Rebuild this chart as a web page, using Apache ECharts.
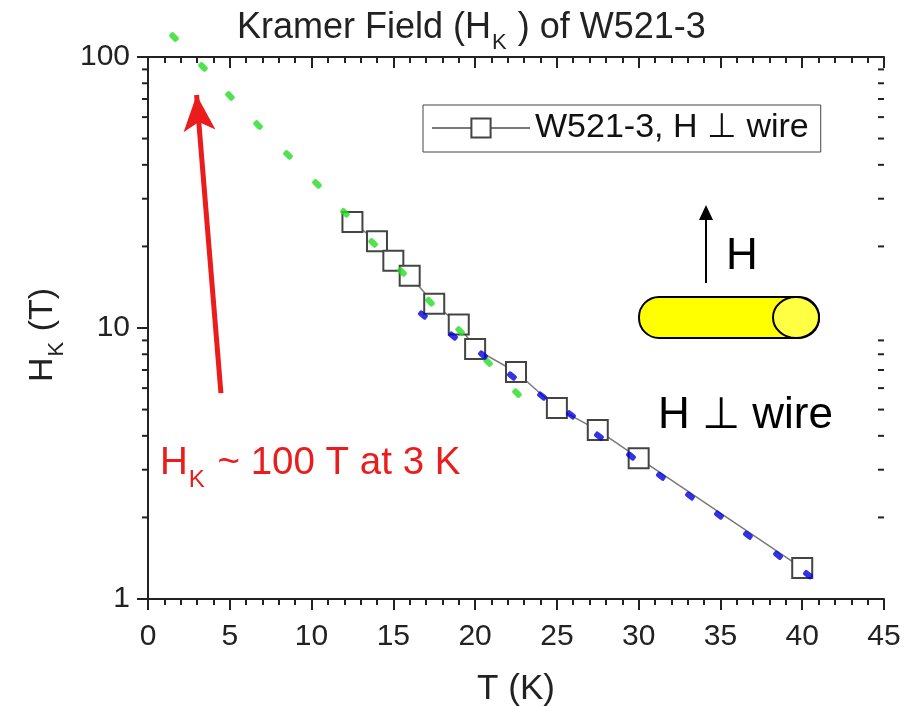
<!DOCTYPE html>
<html>
<head>
<meta charset="utf-8">
<title>Kramer Field of W521-3</title>
<script src="https://cdn.jsdelivr.net/npm/echarts@6/dist/echarts.min.js"></script>
<style>
  html, body { margin: 0; padding: 0; background: #fff; }
  #chart { width: 915px; height: 706px; }
</style>
</head>
<body>
<div id="chart"></div>
<script>
// measured points (squares)
const tempK = [12.5, 14, 15, 16, 17.5, 19, 20, 22.5, 25, 27.5, 30, 40];
const hkVals = [24.6, 20.9, 17.7, 15.6, 12.3, 10.3, 8.37, 6.88, 5.07, 4.2, 3.31, 1.3];
// green dotted extrapolation
const greenT = [1.59, 3.36, 5.01, 6.73, 8.56, 10.33, 12.04, 13.76, 15.53, 17.24, 19.08, 20.79, 22.56];
const greenHk = [118.5, 91.9, 71.8, 56.1, 43.5, 34.0, 26.6, 20.6, 16.1, 12.5, 9.75, 7.49, 5.75];
// blue dotted fit
const blueT = [16.81, 18.65, 20.48, 22.25, 24.09, 25.86, 27.57, 29.53, 31.36, 33.14, 34.91, 36.68, 38.52, 40.35];
const blueHk = [11.17, 9.34, 7.95, 6.65, 5.61, 4.78, 3.99, 3.37, 2.84, 2.40, 2.04, 1.72, 1.45, 1.23];
// log minor ticks
const yMinorTicks = [2, 3, 4, 5, 6, 7, 8, 9, 20, 30, 40, 50, 60, 70, 80, 90];
// red arrow (T, Hk)
const arrowFrom = [4.46, 5.75];
const arrowTo = [2.97, 72.4];

const seriesName = 'W521-3, H \u22A5 wire';
const font = '"Liberation Sans", Arial, sans-serif';
const axisColor = '#222';

const chart = echarts.init(document.getElementById('chart'));

function zip(xs, ys) {
    return xs.map(function (x, i) { return [x, ys[i]]; });
}

// H with subscript K
function subRich(size, subSize, shift, color) {
    return {
        a: { fontSize: size, fontFamily: font, fontWeight: 'normal', color: color, lineHeight: size + 4, verticalAlign: 'top' },
        s: { fontSize: subSize, fontFamily: font, fontWeight: 'normal', color: color, lineHeight: subSize + 2, verticalAlign: 'top', padding: [shift, 1, 0, 1] }
    };
}

const option = {
    backgroundColor: '#fff',
    animation: false,
    title: {
        left: 232,
        top: 5,
        text: '{a|Kramer Field (H}{s|K}{a| ) of W521-3}',
        textStyle: { rich: subRich(36, 22, 22, '#222') }
    },
    legend: {
        left: 423,
        top: 105,
        data: [seriesName],
        itemWidth: 98,
        itemHeight: 24,
        padding: [6, 12, 7, 8],
        borderColor: '#444',
        borderWidth: 1,
        textStyle: { fontSize: 34, fontFamily: font, color: '#111' }
    },
    grid: { left: 148, right: 31, top: 57, bottom: 107, outerBoundsMode: 'none', containLabel: false },
    xAxis: [{
        type: 'value',
        min: 0, max: 45, interval: 5,
        position: 'bottom',
        name: 'T (K)',
        nameLocation: 'middle',
        nameGap: 73,
        nameTextStyle: { fontSize: 35, fontFamily: font, color: '#222' },
        axisLine: { lineStyle: { color: axisColor, width: 2 } },
        axisTick: { inside: false, length: 11, lineStyle: { color: axisColor, width: 2 } },
        minorTick: { show: true, splitNumber: 5, length: 6, lineStyle: { color: axisColor, width: 2 } },
        axisLabel: { fontSize: 30, fontFamily: font, color: '#222', margin: 23 },
        splitLine: { show: false }
    }, {
        type: 'value',
        min: 0, max: 45, interval: 5,
        position: 'top',
        axisLine: { lineStyle: { color: axisColor, width: 2 } },
        axisTick: { inside: true, length: 11, lineStyle: { color: axisColor, width: 2 } },
        minorTick: { show: true, splitNumber: 5, length: 6, lineStyle: { color: axisColor, width: 2 } },
        axisLabel: { show: false },
        splitLine: { show: false }
    }],
    yAxis: [{
        type: 'log',
        logBase: 10,
        min: 1, max: 100,
        position: 'left',
        name: '{a|H}{s|K}{a| (T)}',
        nameLocation: 'middle',
        nameRotate: 90,
        nameGap: 84,
        nameTextStyle: { rich: subRich(34, 22, 20, '#222'), padding: [0, 14, 0, 0] },
        axisLine: { lineStyle: { color: axisColor, width: 2 } },
        axisTick: { inside: false, length: 11, lineStyle: { color: axisColor, width: 2 } },
        axisLabel: { fontSize: 30, fontFamily: font, color: '#222', margin: 18 },
        splitLine: { show: false }
    }, {
        type: 'log',
        logBase: 10,
        min: 1, max: 100,
        position: 'right',
        axisLine: { lineStyle: { color: axisColor, width: 2 } },
        axisTick: { inside: true, length: 11, lineStyle: { color: axisColor, width: 2 } },
        axisLabel: { show: false },
        splitLine: { show: false }
    }],
    series: [{
        name: seriesName,
        type: 'line',
        data: zip(tempK, hkVals),
        symbol: 'rect',
        symbolSize: 20,
        itemStyle: { color: '#fff', borderColor: '#444', borderWidth: 2 },
        lineStyle: { color: '#7a7a7a', width: 1.5 },
        z: 3
    }, {
        name: 'green',
        type: 'scatter',
        data: zip(greenT, greenHk),
        symbol: 'roundRect',
        symbolSize: [10, 6],
        symbolRotate: -45,
        clip: false,
        itemStyle: { color: '#22dd22' },
        z: 4,
        markLine: {
            silent: true,
            symbol: ['none', 'arrow'],
            symbolSize: [24, 36],
            label: { show: false },
            lineStyle: { color: '#ea1c1c', width: 5, type: 'solid' },
            data: [[{ coord: arrowFrom }, { coord: arrowTo }]]
        }
    }, {
        name: 'blue',
        type: 'scatter',
        data: zip(blueT, blueHk),
        symbol: 'roundRect',
        symbolSize: [10, 6],
        symbolRotate: -38,
        itemStyle: { color: '#0000dd' },
        z: 4
    }, {
        name: 'minorY',
        type: 'custom',
        silent: true,
        clip: false,
        data: yMinorTicks.map(function (v) { return [0, v]; }),
        renderItem: function (params, api) {
            var v = api.value(1);
            var pl = api.coord([0, v]);
            var pr = api.coord([45, v]);
            var st = { stroke: axisColor, lineWidth: 2 };
            return {
                type: 'group',
                children: [
                    { type: 'line', shape: { x1: pl[0] - 6, y1: pl[1], x2: pl[0], y2: pl[1] }, style: st },
                    { type: 'line', shape: { x1: pr[0] - 6, y1: pr[1], x2: pr[0], y2: pr[1] }, style: st }
                ]
            };
        }
    }],
    graphic: [
        // red note
        {
            type: 'text', left: 160, top: 444,
            style: {
                text: '{a|H}{s|K}{a| ~ 100 T at 3 K}',
                rich: {
                    a: { fontSize: 38.5, fontFamily: font, fill: '#ea1c1c', lineHeight: 42, verticalAlign: 'top' },
                    s: { fontSize: 24, fontFamily: font, fill: '#ea1c1c', lineHeight: 26, verticalAlign: 'top', padding: [24, 2, 0, 1] }
                }
            }
        },
        // field arrow
        { type: 'line', shape: { x1: 706, y1: 283, x2: 706, y2: 216 }, style: { stroke: '#000', lineWidth: 2 } },
        { type: 'polygon', shape: { points: [[706, 205], [699, 220], [713, 220]] }, style: { fill: '#000' } },
        { type: 'text', left: 726, top: 235, style: { text: 'H', fontSize: 44, fontFamily: font, fill: '#000' } },
        // wire
        { type: 'rect', shape: { x: 639, y: 297, width: 180, height: 41, r: 20 }, style: { fill: '#ffff00', stroke: '#000', lineWidth: 2 } },
        { type: 'ellipse', shape: { cx: 796, cy: 317.5, rx: 23, ry: 20.5 }, style: { fill: '#ffff44', stroke: '#000', lineWidth: 2 } },
        { type: 'text', left: 658, top: 394, style: { text: 'H \u22A5 wire', fontSize: 44, fontFamily: font, fill: '#000' } }
    ]
};

chart.setOption(option);
</script>
</body>
</html>
